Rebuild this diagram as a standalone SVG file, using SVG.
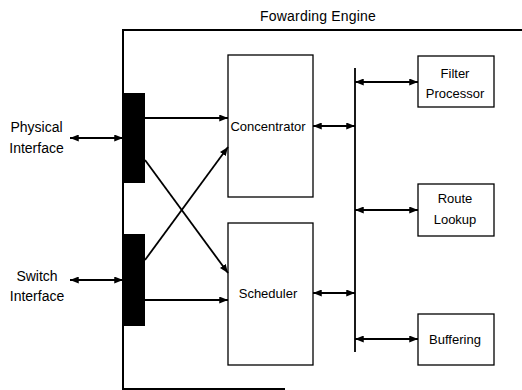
<svg xmlns="http://www.w3.org/2000/svg" width="522" height="390" viewBox="0 0 522 390">
<style>
text{font-family:"Liberation Sans",Arial,sans-serif;fill:#000}
.lbl{font-size:14px}
.box{fill:#fff;stroke:#000;stroke-width:1.3}
.bar{fill:#000}
.frame{fill:none;stroke:#000;stroke-width:2}
.c{fill:none;stroke:#000;stroke-width:1.8}
.bus{fill:none;stroke:#000;stroke-width:1.8}
.t{font-size:13px;text-anchor:middle}
</style>
<defs>
<marker id="ah" viewBox="0 0 10 8" refX="10" refY="4" markerWidth="9" markerHeight="7" markerUnits="userSpaceOnUse" orient="auto-start-reverse">
<path d="M0,0 L10,4 L0,8 z" fill="#000"/>
</marker>
</defs>
<g id="engine">
<path class="frame" d="M522,30 H123 V389 H285"/>
<text x="260" y="21" font-size="14" letter-spacing="0.2">Fowarding  Engine</text>
</g>
<g id="physical-label">
<text class="lbl" x="36.5" y="132" text-anchor="middle">Physical</text>
<text class="lbl" x="36.5" y="153" text-anchor="middle">Interface</text>
</g>
<g id="switch-label">
<text class="lbl" x="37" y="281" text-anchor="middle">Switch</text>
<text class="lbl" x="37" y="301" text-anchor="middle">Interface</text>
</g>
<g id="port-top"><rect class="bar" x="123" y="93" width="22" height="90"/></g>
<g id="port-bottom"><rect class="bar" x="123" y="234" width="22" height="92"/></g>
<g id="concentrator">
<rect class="box" x="228" y="55" width="85" height="142"/>
<text class="t" x="268" y="131">Concentrator</text>
</g>
<g id="scheduler">
<rect class="box" x="228" y="223" width="85" height="142"/>
<text class="t" x="268" y="298">Scheduler</text>
</g>
<g id="bus">
<line class="bus" x1="355" y1="68" x2="355" y2="352"/>
</g>
<g id="filter">
<rect class="box" x="418" y="56" width="76" height="51"/>
<text class="t" x="455" y="78">Filter</text>
<text class="t" x="455" y="98">Processor</text>
</g>
<g id="route">
<rect class="box" x="418" y="184" width="76" height="52"/>
<text class="t" x="455" y="203">Route</text>
<text class="t" x="455" y="224">Lookup</text>
</g>
<g id="buffering">
<rect class="box" x="418" y="314" width="76" height="51"/>
<text class="t" x="455" y="344">Buffering</text>
</g>
<g id="connectors">
<line class="c" x1="70" y1="138" x2="123" y2="138" marker-start="url(#ah)" marker-end="url(#ah)"/>
<line class="c" x1="70" y1="280" x2="123" y2="280" marker-start="url(#ah)" marker-end="url(#ah)"/>
<line class="c" x1="145" y1="118" x2="228" y2="118" marker-end="url(#ah)"/>
<line class="c" x1="145" y1="300" x2="228" y2="300" marker-end="url(#ah)"/>
<line class="c" x1="145" y1="160" x2="228" y2="273" marker-end="url(#ah)"/>
<line class="c" x1="145" y1="260" x2="228" y2="147" marker-end="url(#ah)"/>
<line class="c" x1="313" y1="126" x2="355" y2="126" marker-start="url(#ah)" marker-end="url(#ah)"/>
<line class="c" x1="313" y1="293" x2="355" y2="293" marker-start="url(#ah)" marker-end="url(#ah)"/>
<line class="c" x1="355" y1="82" x2="418" y2="82" marker-start="url(#ah)" marker-end="url(#ah)"/>
<line class="c" x1="355" y1="210" x2="418" y2="210" marker-start="url(#ah)" marker-end="url(#ah)"/>
<line class="c" x1="355" y1="339" x2="418" y2="339" marker-start="url(#ah)" marker-end="url(#ah)"/>
</g>
</svg>
